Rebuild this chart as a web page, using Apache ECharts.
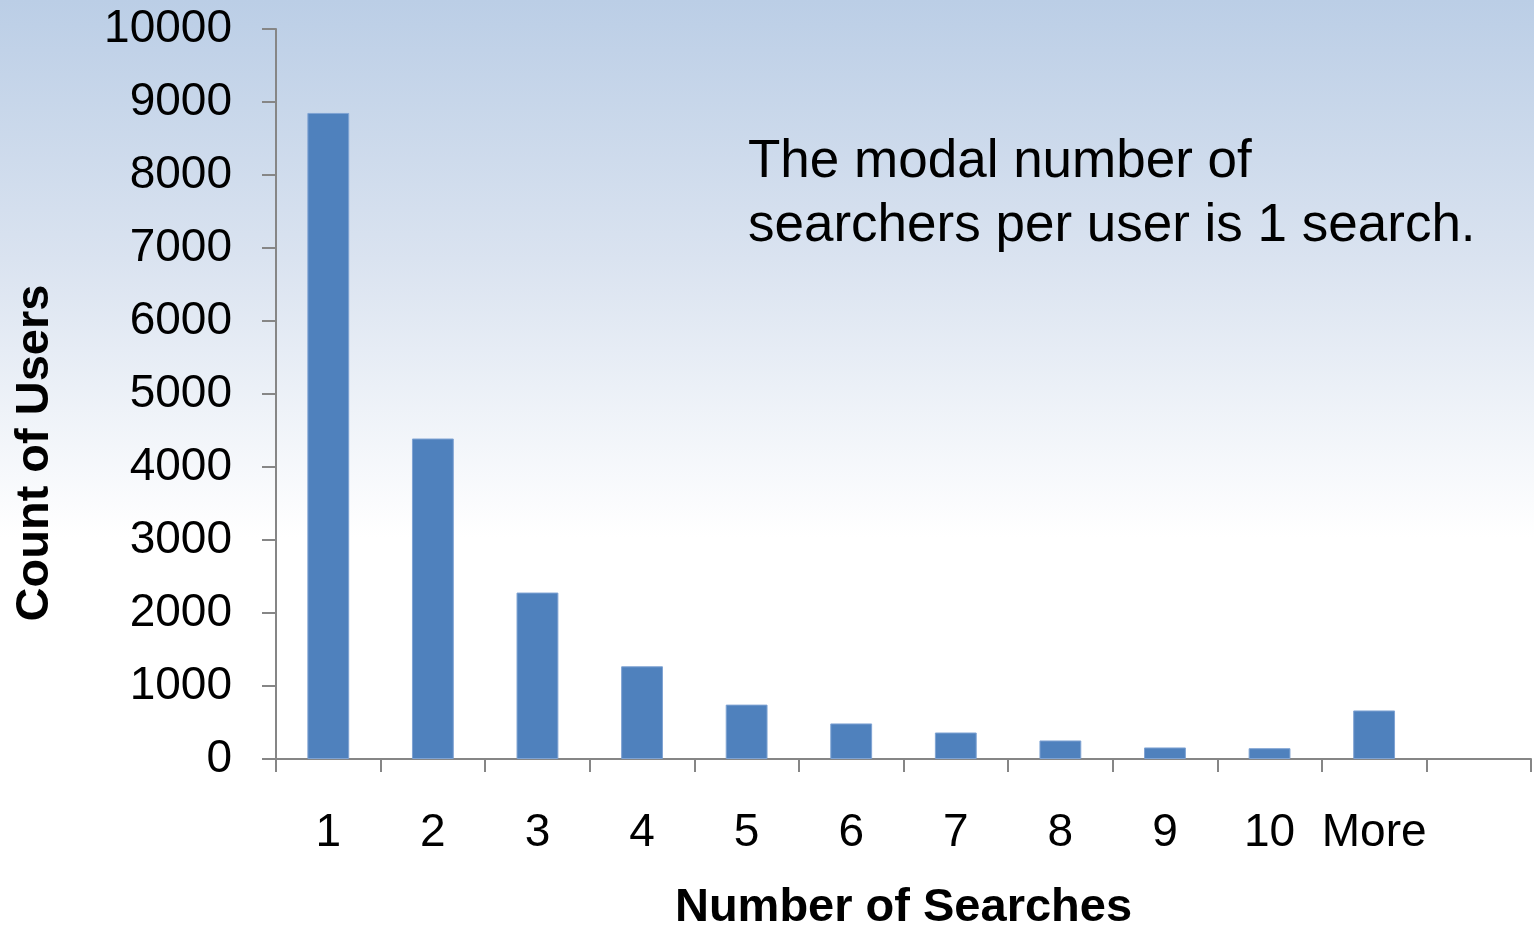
<!DOCTYPE html>
<html>
<head>
<meta charset="utf-8">
<script src="https://cdn.jsdelivr.net/npm/echarts@6/dist/echarts.min.js"></script>
<style>
html,body{margin:0;padding:0;}
#chart{width:1534px;height:926px;}
</style>
</head>
<body>
<div id="chart"></div>
<script>
const categories = ['1','2','3','4','5','6','7','8','9','10','More',''];
const counts = [8850, 4390, 2280, 1270, 745, 487, 363, 254, 158, 148, 665, null];
const yTicks = { min: 0, max: 10000, interval: 1000 };
const xTitle = 'Number of Searches';
const yTitle = 'Count of Users';
const noteLines = ['The modal number of', 'searchers per user is 1 search.'];

const FONT = '"Liberation Sans", Arial, sans-serif';
const chart = echarts.init(document.getElementById('chart'));
chart.setOption({
  animation: false,
  backgroundColor: {
    type: 'linear', x: 0, y: 0, x2: 0, y2: 1,
    colorStops: [
      { offset: 0, color: '#BBCEE6' },
      { offset: 0.28, color: '#DAE3F0' },
      { offset: 0.58, color: '#FFFFFF' },
      { offset: 1, color: '#FFFFFF' }
    ]
  },
  grid: { left: 276, right: 3, top: 29, bottom: 167, containLabel: false, outerBoundsMode: 'none' },
  xAxis: {
    type: 'category',
    data: categories,
    boundaryGap: true,
    axisLine: { show: true, lineStyle: { color: '#868686', width: 2 } },
    axisTick: { show: true, alignWithLabel: false, length: 13, lineStyle: { color: '#868686', width: 2 } },
    axisLabel: { color: '#000', fontFamily: FONT, fontSize: 46, margin: 51, interval: 0 },
    name: xTitle,
    nameLocation: 'middle',
    nameGap: 126,
    nameTextStyle: { color: '#000', fontFamily: FONT, fontSize: 47, fontWeight: 'bold' }
  },
  yAxis: {
    type: 'value',
    min: yTicks.min, max: yTicks.max, interval: yTicks.interval,
    splitLine: { show: false },
    axisLine: { show: true, lineStyle: { color: '#868686', width: 2 } },
    axisTick: { show: true, length: 14, lineStyle: { color: '#868686', width: 2 } },
    axisLabel: { color: '#000', fontFamily: FONT, fontSize: 46, margin: 44, formatter: v => String(v) }
  },
  series: [{
    type: 'bar',
    data: counts,
    barWidth: '40%',
    itemStyle: { color: '#4F81BD', borderColor: '#7FA3D3', borderWidth: 1 }
  }],
  graphic: [
    {
      type: 'text', x: 35, y: 453, rotation: Math.PI / 2,
      style: { text: yTitle, fill: '#000', font: 'bold 47px ' + FONT, align: 'center', verticalAlign: 'middle' }
    },
    {
      type: 'text', x: 748, y: 130,
      style: { text: noteLines.join('\n'), fill: '#000', font: '53px ' + FONT, lineHeight: 64, align: 'left', verticalAlign: 'top' }
    }
  ]
});
</script>
</body>
</html>
